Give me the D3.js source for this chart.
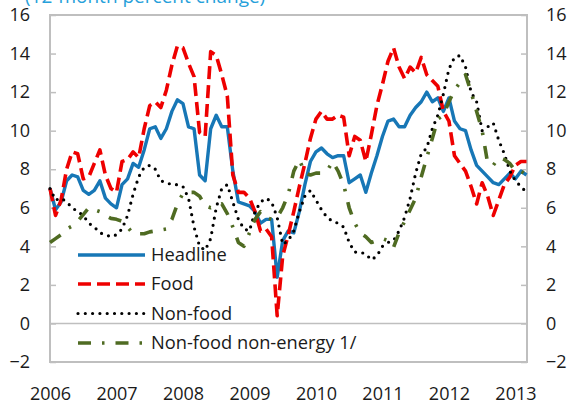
<!DOCTYPE html>
<html>
<head>
<meta charset="utf-8">
<script src="https://cdn.jsdelivr.net/npm/d3@7"></script>
<style>
  html, body { margin: 0; padding: 0; background: #fff; }
  svg { display: block; font-family: 'Open Sans', sans-serif; }
</style>
</head>
<body>
<svg id="chart" width="568" height="404"></svg>
<script>
// monthly categories, Jan 2006 .. Mar 2013
const months = d3.timeMonth.range(new Date(2006, 0, 1), new Date(2013, 3, 1));
const yearLabels = ['2006', '2007', '2008', '2009', '2010', '2011', '2012', '2013'];
const yTicks = [-2, 0, 2, 4, 6, 8, 10, 12, 14, 16];

const headline = [
  7.0, 5.9, 6.3, 7.4, 7.7, 7.6, 6.9, 6.7, 6.9, 7.4, 6.5, 6.2,
  6.0, 7.2, 7.5, 8.3, 8.1, 9.0, 10.1, 10.2, 9.6, 10.1, 11.0, 11.6,
  11.4, 10.2, 10.1, 7.7, 7.4, 10.1, 10.8, 10.2, 10.2, 7.9, 6.3, 6.2,
  6.1, 5.8, 5.2, 5.4, 5.4, 2.4, 4.3, 4.8, 4.7, 5.8, 7.2, 8.4,
  8.9, 9.1, 8.8, 8.6, 8.7, 8.7, 7.3, 7.5, 7.7, 6.8, 7.8, 8.7,
  9.7, 10.5, 10.6, 10.2, 10.2, 10.8, 11.2, 11.5, 12.0, 11.5, 11.7, 11.0,
  11.7, 10.5, 10.1, 10.0, 9.0, 8.2, 7.9, 7.6, 7.3, 7.2, 7.5, 7.8,
  7.5, 7.9, 7.7
];
const food = [
  7.0, 5.6, 6.4, 8.0, 8.9, 8.8, 7.5, 7.6, 8.3, 9.0, 7.7, 7.0,
  6.8, 8.4, 8.5, 8.9, 8.6, 10.1, 11.3, 11.5, 11.2, 12.1, 13.4, 14.4,
  14.3, 13.5, 12.8, 9.9, 9.7, 14.1, 13.9, 12.9, 11.8, 7.7, 6.8, 6.8,
  6.5, 5.8, 4.8, 4.9, 4.5, 0.4, 3.5, 4.6, 5.8, 7.1, 8.3, 9.6,
  10.6, 11.0, 10.6, 10.6, 10.8, 10.7, 8.7, 9.7, 9.5, 8.4, 9.8, 11.3,
  12.4, 13.6, 14.3, 13.3, 12.7, 13.3, 13.0, 13.8, 12.9, 12.6, 12.3, 11.0,
  10.5, 8.7, 8.3, 7.9, 7.1, 6.2, 7.3, 6.6, 5.6, 6.4, 7.2, 7.6,
  8.2, 8.4, 8.4
];
const nonFood = [
  7.0, 6.4, 6.5, 6.3, 6.0, 5.8, 5.6, 5.2, 5.0, 4.7, 4.6, 4.5,
  4.6, 4.9, 5.6, 6.7, 7.6, 8.1, 8.2, 8.0, 7.4, 7.3, 7.2, 7.2,
  7.1, 6.5, 5.0, 4.0, 3.8, 4.4, 6.0, 7.0, 7.2, 6.3, 5.4, 4.9,
  4.8, 5.8, 6.3, 6.5, 6.3, 5.5, 4.1, 4.3, 4.8, 5.8, 6.6, 6.9,
  6.4, 5.9, 5.5, 5.3, 5.2, 5.0, 4.2, 3.7, 3.7, 3.6, 3.3, 3.5,
  4.0, 4.2, 4.3, 4.8, 5.5, 6.5, 7.8, 8.8, 9.1, 10.1, 10.8, 11.9,
  13.2, 13.8, 13.9, 13.3, 12.0, 11.5, 10.0, 10.2, 10.4, 9.5, 8.8, 7.9,
  7.4, 7.1, 6.8
];
const nonFoodNonEnergy = [
  4.2, 4.4, 4.6, 4.9, 5.05, 5.3, 5.65, 6.0, 5.9, 5.8, 5.6, 5.45,
  5.4, 5.3, 5.0, 4.65, 4.65, 4.65, 4.75, 4.8, 4.85, 4.9, 5.4, 6.2,
  6.75, 6.8, 6.8, 6.6, 6.1, 6.0, 6.1, 6.2, 5.7, 5.0, 4.2, 4.0,
  4.7, 5.4, 5.8, 5.5, 5.4, 5.5, 6.0, 6.7, 7.9, 8.5, 7.8, 7.7,
  7.8, 7.8, 7.9, 8.4, 7.9, 7.2, 6.0, 5.2, 4.7, 4.5, 4.2, 4.3,
  4.4, 4.3, 3.95, 4.7, 5.3, 5.9, 6.5, 7.6, 8.6, 9.6, 10.6, 10.8,
  11.5, 12.1, 12.5, 12.9, 12.0, 11.0, 10.0, 8.3, 8.2, 8.6, 8.5, 8.3,
  7.9, 7.9, 7.7
];

const SERIES = [
  { label: 'Headline', values: headline, color: '#1777b6', width: 3.4, dash: null, cap: 'butt' },
  { label: 'Food', values: food, color: '#ee0000', width: 3.6, dash: '13 6', cap: 'butt' },
  { label: 'Non-food', values: nonFood, color: '#000000', width: 3.2, dash: '0 7.3', cap: 'round' },
  { label: 'Non-food non-energy 1/', values: nonFoodNonEnergy, color: '#4f6b22', width: 3.6, dash: '13 11 2.5 11', cap: 'butt' },
];

const W = 568, H = 404;
const plot = { left: 50, right: 527, top: 15, bottom: 362 };
const GRID = '#bfbfbf';

const svg = d3.select('#chart');
svg.append('rect').attr('width', W).attr('height', H).attr('fill', '#fff');

const x = d3.scalePoint()
  .domain(months.map(d => +d))
  .range([plot.left, plot.right - 0.5]);
const y = d3.scaleLinear().domain([-2, 16]).range([plot.bottom, plot.top]);

// title, only its lower part shows at the top edge, as in the original
svg.append('text')
  .attr('x', 25)
  .attr('y', 3)
  .attr('fill', '#26a0da')
  .style('font-size', '19px')
  .text('(12-month percent change)');

// frame
svg.append('rect')
  .attr('x', plot.left).attr('y', plot.top)
  .attr('width', plot.right - plot.left).attr('height', plot.bottom - plot.top)
  .attr('fill', 'none').attr('stroke', GRID).attr('stroke-width', 2);

// zero line
svg.append('line')
  .attr('x1', plot.left).attr('x2', plot.right)
  .attr('y1', y(0)).attr('y2', y(0))
  .attr('stroke', GRID).attr('stroke-width', 1.5);

const leftAxis = svg.append('g')
  .attr('transform', `translate(${plot.left},0)`)
  .call(d3.axisLeft(y).tickValues(yTicks).tickSizeInner(-6).tickSizeOuter(0).tickPadding(20));
const rightAxis = svg.append('g')
  .attr('transform', `translate(${plot.right},0)`)
  .call(d3.axisRight(y).tickValues(yTicks).tickSizeInner(-6).tickSizeOuter(0).tickPadding(19));

const janKeys = months.filter(d => d.getMonth() === 0).map(d => +d);
const bottomAxis = svg.append('g')
  .attr('transform', `translate(0,${plot.bottom})`)
  .call(d3.axisBottom(x).tickValues(janKeys).tickSize(0)
    .tickFormat((d, i) => yearLabels[i]));
bottomAxis.selectAll('text').attr('y', 38).attr('dy', 0);

[leftAxis, rightAxis, bottomAxis].forEach(g => {
  g.select('.domain').remove();
  g.selectAll('line').attr('stroke', GRID).attr('stroke-width', 1.5);
  g.selectAll('text')
    .attr('fill', '#1a1a1a')
    .style('font-size', '18px')
    .style('font-family', "'Open Sans', sans-serif");
});

const line = d3.line()
  .x((d, i) => x(+months[i]))
  .y(d => y(d));

SERIES.forEach(s => {
  svg.append('path')
    .datum(s.values)
    .attr('d', line)
    .attr('fill', 'none')
    .attr('stroke', s.color)
    .attr('stroke-width', s.width)
    .attr('stroke-dasharray', s.dash)
    .attr('stroke-linecap', s.cap)
    .attr('stroke-linejoin', 'round');
});

// legend
const legendRows = [255, 284, 313.5, 343];
const legend = svg.append('g');
SERIES.forEach((s, i) => {
  legend.append('line')
    .attr('x1', 78).attr('x2', 145)
    .attr('y1', legendRows[i]).attr('y2', legendRows[i])
    .attr('stroke', s.color)
    .attr('stroke-width', s.width)
    .attr('stroke-dasharray', s.dash)
    .attr('stroke-linecap', s.cap);
  legend.append('text')
    .attr('x', 151)
    .attr('y', legendRows[i])
    .attr('dy', '0.35em')
    .attr('fill', '#1a1a1a')
    .style('font-size', '18.3px')
    .text(s.label);
});
</script>
</body>
</html>
